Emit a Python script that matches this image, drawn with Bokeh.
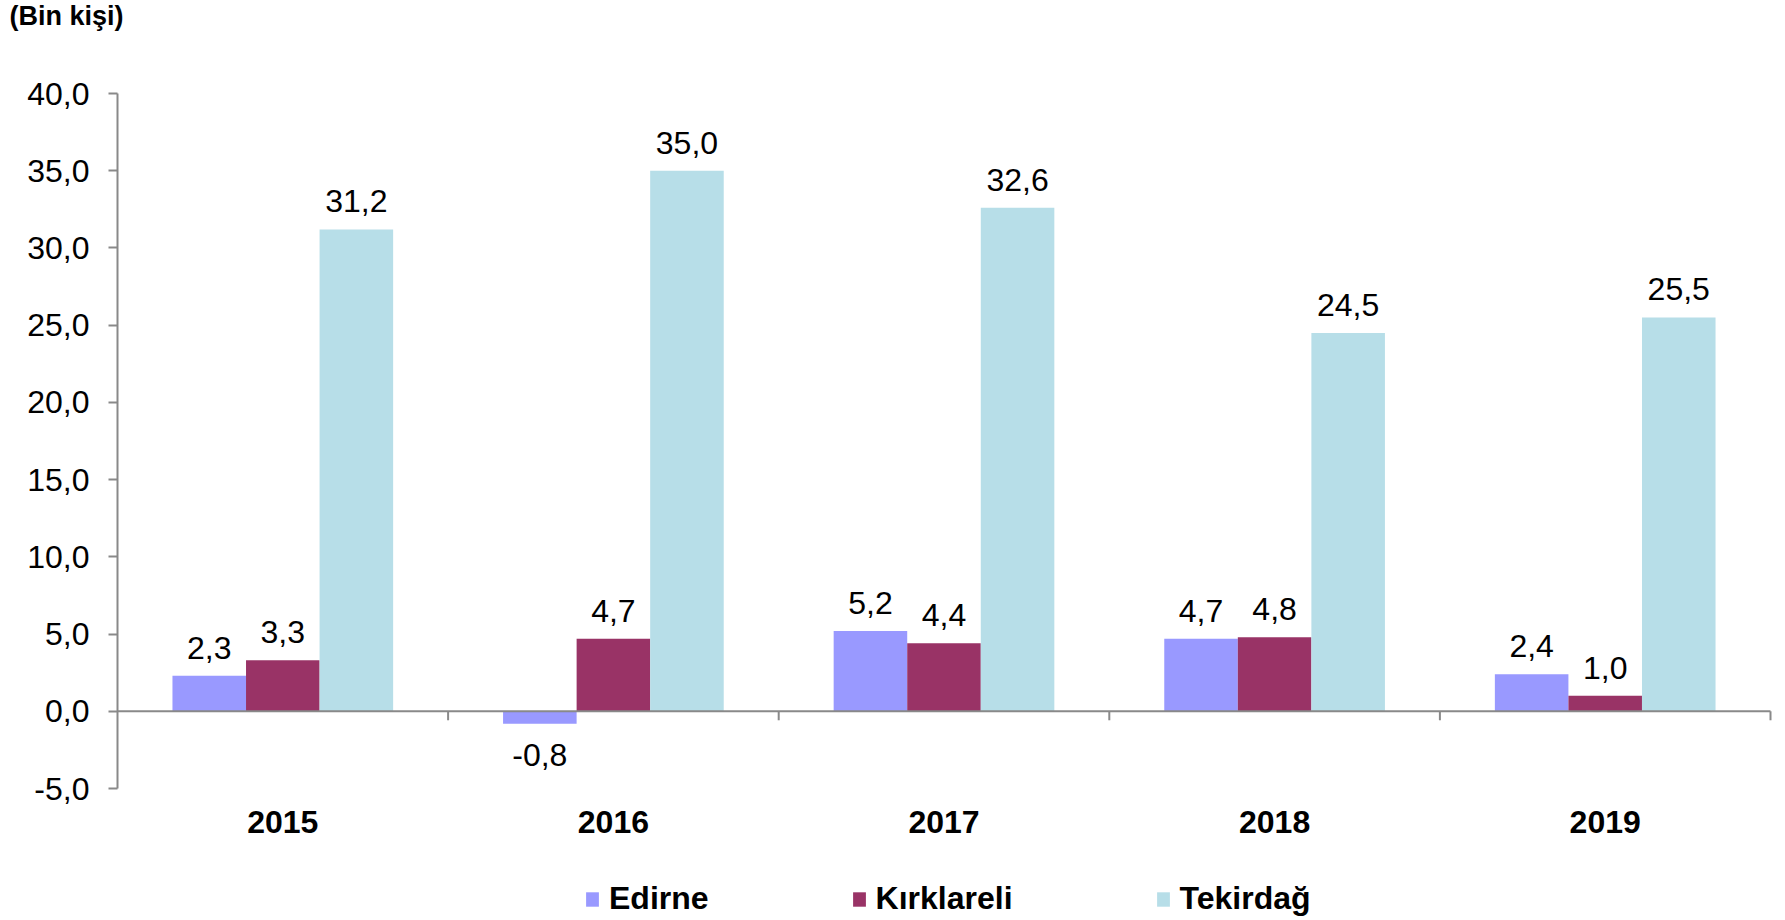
from bokeh.plotting import figure
from bokeh.models import (ColumnDataSource, Range1d, FixedTicker, Legend, LegendItem, Label)
from bokeh.transform import dodge
from bokeh.core.properties import value
from bokeh.embed import file_html
from bokeh.resources import INLINE

years = ["2015", "2016", "2017", "2018", "2019"]
series_names = ["Edirne", "Kırklareli", "Tekirdağ"]
edirne = [2.3, -0.8, 5.2, 4.7, 2.4]
kirklareli = [3.3, 4.7, 4.4, 4.8, 1.0]
tekirdag = [31.2, 35.0, 32.6, 24.5, 25.5]
colors = ["#9999FF", "#993366", "#B7DEE8"]
y_ticks = [-5, 0, 5, 10, 15, 20, 25, 30, 35, 40]
unit_label = "(Bin kişi)"

FONT = "Liberation Sans"
AXIS_COLOR = "#898989"

def fmt(v):
    return f"{v:.1f}".replace(".", ",")

# layout (pixels): plot area where the axes live
W, H = 1785, 920
AX_LEFT, AX_RIGHT, AX_TOP, AX_BOTTOM = 117, 1770, 93, 788
n = len(years)
ymin, ymax = y_ticks[0], y_ticks[-1]
px_x = (AX_RIGHT - AX_LEFT) / n
px_y = (AX_BOTTOM - AX_TOP) / (ymax - ymin)
x_start = -AX_LEFT / px_x
x_end = (W - AX_LEFT) / px_x
y_end = ymax + AX_TOP / px_y
y_start = ymin - (H - AX_BOTTOM) / px_y

xc = [i + 0.5 for i in range(n)]

p = figure(width=W, height=H, output_backend="svg", toolbar_location=None,
           x_range=Range1d(x_start, x_end), y_range=Range1d(y_start, y_end),
           min_border=0, min_border_left=0, min_border_right=0,
           min_border_top=0, min_border_bottom=0)
p.background_fill_color = "white"
p.border_fill_color = "white"
p.outline_line_color = None
p.xgrid.visible = False
p.ygrid.visible = False

bar_w = 0.2225
offsets = [-bar_w, 0.0, bar_w]
all_vals = [edirne, kirklareli, tekirdag]
renderers = []
for name, vals, col, off in zip(series_names, all_vals, colors, offsets):
    src = ColumnDataSource(dict(x=xc, top=vals))
    r = p.vbar(x=dodge("x", off, range=p.x_range), top="top", bottom=0, width=bar_w,
               source=src, fill_color=col, line_color=None)
    renderers.append(r)
    pos = ColumnDataSource(dict(x=[x for x, v in zip(xc, vals) if v >= 0],
                                y=[v for v in vals if v >= 0],
                                lab=[fmt(v) for v in vals if v >= 0]))
    neg = ColumnDataSource(dict(x=[x for x, v in zip(xc, vals) if v < 0],
                                y=[v for v in vals if v < 0],
                                lab=[fmt(v) for v in vals if v < 0]))
    p.text(x=dodge("x", off, range=p.x_range), y="y", text="lab", source=pos,
           text_align="center", text_baseline="alphabetic", y_offset=-28,
           text_font=value(FONT), text_font_size="32px", text_color="black")
    p.text(x=dodge("x", off, range=p.x_range), y="y", text="lab", source=neg,
           text_align="center", text_baseline="alphabetic", y_offset=31,
           text_font=value(FONT), text_font_size="32px", text_color="black")

# zero line with category separator ticks
p.segment(x0=[0], x1=[n], y0=[0], y1=[0], line_color=AXIS_COLOR, line_width=2)
sep = list(range(1, n + 1))
p.segment(x0=sep, x1=sep, y0=[0] * len(sep), y1=[-9 / px_y] * len(sep),
          line_color=AXIS_COLOR, line_width=2)

# y axis
ya = p.yaxis[0]
ya.fixed_location = 0
ya.bounds = (ymin, ymax)
ya.ticker = FixedTicker(ticks=y_ticks)
ya.major_label_overrides = {t: fmt(t) for t in y_ticks}
ya.axis_line_color = AXIS_COLOR
ya.axis_line_width = 2
ya.major_tick_line_color = AXIS_COLOR
ya.major_tick_line_width = 2
ya.major_tick_out = 9
ya.major_tick_in = 0
ya.minor_tick_line_color = None
ya.major_label_standoff = 19
ya.major_label_text_font = FONT
ya.major_label_text_font_size = "32px"
ya.major_label_text_color = "black"

# x axis (year labels) at the bottom of the value range
xa = p.xaxis[0]
xa.fixed_location = ymin
xa.ticker = FixedTicker(ticks=xc)
xa.major_label_overrides = {x: y for x, y in zip(xc, years)}
xa.axis_line_color = None
xa.major_tick_line_color = None
xa.minor_tick_line_color = None
xa.major_tick_out = 0
xa.major_tick_in = 0
xa.major_label_standoff = 22
xa.major_label_text_font = FONT
xa.major_label_text_font_size = "32px"
xa.major_label_text_font_style = "bold"
xa.major_label_text_color = "black"

legend = Legend(items=[LegendItem(label=nm, renderers=[r]) for nm, r in zip(series_names, renderers)],
                orientation="horizontal", location=(584, 3))
legend.label_text_font = FONT
legend.label_text_font_size = "32px"
legend.label_text_font_style = "bold"
legend.label_text_color = "black"
legend.glyph_width = 16
legend.glyph_height = 18
legend.label_standoff = 9
legend.spacing = 142
legend.border_line_color = None
legend.background_fill_alpha = 0
legend.padding = 0
legend.margin = 0
p.add_layout(legend, "center")

title = Label(x=(9 - AX_LEFT) / px_x, y=ymax + (AX_TOP - 15) / px_y, text=unit_label,
              text_font=FONT, text_font_size="27px", text_font_style="bold",
              text_color="black", text_baseline="alphabetic", text_align="left")
p.add_layout(title)

open("out.html", "w").write(file_html(p, INLINE))
